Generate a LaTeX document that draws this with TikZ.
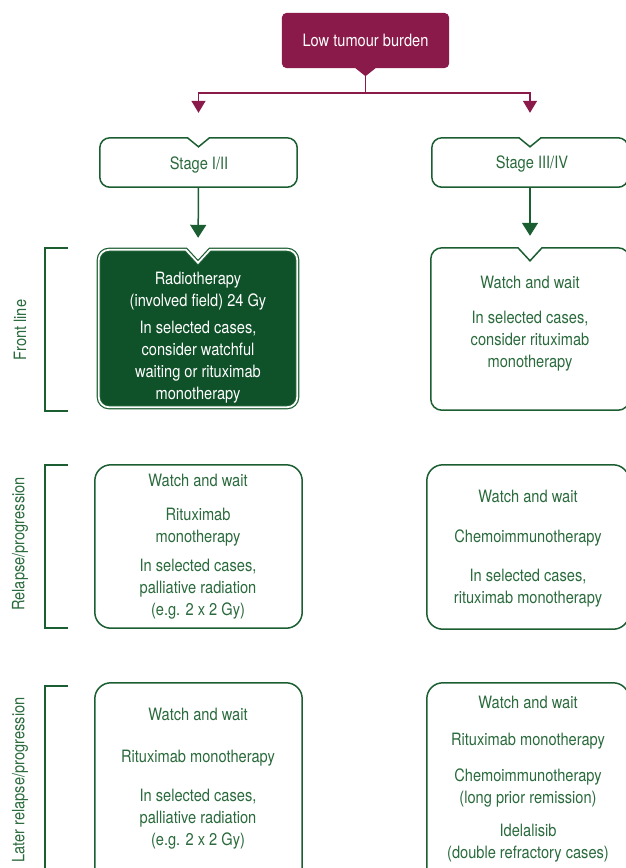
\documentclass[tikz,border=0pt]{standalone}
\usepackage{fontspec}
\setmainfont{TeX Gyre Heros}[FakeStretch=0.86]
\usetikzlibrary{arrows.meta}
\definecolor{maroon}{HTML}{8A1A4A}
\definecolor{grn}{HTML}{1B5E32}
\definecolor{dkgrn}{HTML}{0F5129}
\definecolor{gtxt}{HTML}{2A6A3C}
% #1 style, #2 node, #3 corner radius, #4 notch half width, #5 notch depth
\newcommand\notchbox[5]{\path[#1] (#2.west) [rounded corners=#3] -- (#2.north west) -- ([xshift=-#4-20pt]#2.north) [sharp corners] -- ([xshift=-#4]#2.north) -- ([yshift=-#5]#2.north) -- ([xshift=#4]#2.north) -- ([xshift=#4+20pt]#2.north) [rounded corners=#3] -- (#2.north east) -- (#2.south east) -- (#2.south west) -- cycle;}
\begin{document}
\begin{tikzpicture}[x=1pt,y=-1pt,
  boxarea/.style={rectangle, draw=none, inner sep=0pt},
  gline/.style={draw=grn, line width=1.5pt},
  txt/.style={align=center, text=gtxt, font=\fontsize{17}{22}\selectfont, inner sep=0pt},
  wtxt/.style={align=center, text=white, font=\fontsize{17}{22}\selectfont, inner sep=0pt},
  marr/.style={draw=maroon, line width=1.5pt, -{Triangle[width=14pt,length=12pt]}},
  garr/.style={draw=grn, line width=1.5pt, -{Triangle[width=16pt,length=13pt]}},
  brk/.style={draw=grn, line width=1.2pt},
  lbl/.style={rotate=90, text=gtxt, font=\fontsize{17}{22}\selectfont, inner sep=0pt}]
\useasboundingbox (0,0) rectangle (626,868);
\clip (0,0) rectangle (626,868);

% top box
\node[boxarea, minimum width=167pt, minimum height=55pt] (t) at (365.5,40.5) {};
\path[fill=maroon] (t.west) [rounded corners=5pt] -- (t.north west) -- (t.north east) -- (t.south east) -- ([xshift=30pt]t.south) [sharp corners] -- ([xshift=10pt]t.south) -- ([yshift=-8pt]t.south) -- ([xshift=-10pt]t.south) -- ([xshift=-30pt]t.south) [rounded corners=5pt] -- (t.south west) -- cycle;
\node[wtxt] (tt) at (t.center) {Low tumour burden};

% stage boxes
\node[boxarea, minimum width=197pt, minimum height=49pt] (s1) at (198.5,162.5) {};
\node[boxarea, minimum width=196pt, minimum height=49pt] (s2) at (530,162.5) {};
\notchbox{gline}{s1}{10pt}{11pt}{9pt}
\notchbox{gline}{s2}{10pt}{11pt}{9pt}
\node[txt] (s1t) at (199,165) {Stage I/II};
\node[txt] (s2t) at (532,164) {Stage III/IV};

% front line boxes
\node[boxarea, minimum width=198pt, minimum height=157pt] (f1) at (198,328.5) {};
\node[boxarea, minimum width=198pt, minimum height=162pt] (f2) at (530,329) {};
\notchbox{draw=grn, line width=1.2pt, double=white, double distance=1.8pt, fill=dkgrn}{f1}{10pt}{12pt}{13pt}
\notchbox{gline}{f2}{11pt}{12pt}{13pt}
\node[wtxt] (f1t) at (198,338) {Radiotherapy\\(involved field) 24 Gy\\[5pt]In selected cases,\\consider watchful\\waiting or rituximab\\monotherapy};
\node[txt] (f2t) at (530,323.5) {Watch and wait\\[13pt]In selected cases,\\consider rituximab\\monotherapy};

% relapse boxes
\node[boxarea, minimum width=207pt, minimum height=163pt] (r1) at (198.5,546.5) {};
\node[boxarea, minimum width=202pt, minimum height=164pt] (r2) at (528,547) {};
\draw[gline, rounded corners=16pt] (r1.north west) rectangle (r1.south east);
\draw[gline, rounded corners=16pt] (r2.north west) rectangle (r2.south east);
\node[txt] (r1t) at (198,546.5) {Watch and wait\\[12pt]Rituximab\\monotherapy\\[7pt]In selected cases,\\palliative radiation\\(e.g. 2 x 2 Gy)};
\node[txt] (r2t) at (528,548.5) {Watch and wait\\[18pt]Chemoimmunotherapy\\[17pt]In selected cases,\\rituximab monotherapy};

% later relapse boxes
\node[boxarea, minimum width=207pt, minimum height=217pt] (l1) at (198.5,791.5) {};
\node[boxarea, minimum width=202pt, minimum height=217pt] (l2) at (528,791.5) {};
\draw[gline, rounded corners=16pt] (l1.north west) rectangle (l1.south east);
\draw[gline, rounded corners=16pt] (l2.north west) rectangle (l2.south east);
\node[txt] (l1t) at (198,778.5) {Watch and wait\\[20pt]Rituximab monotherapy\\[17pt]In selected cases,\\palliative radiation\\(e.g. 2 x 2 Gy)};
\node[txt] (l2t) at (528,779) {Watch and wait\\[15pt]Rituximab monotherapy\\[14pt]Chemoimmunotherapy\\(long prior remission)\\[11pt]Idelalisib\\(double refractory cases)};

% connectors
\coordinate (tp) at ([yshift=-8pt]t.south);
\coordinate (j) at ([yshift=-25pt]t.south);
\draw[marr, shorten >=25pt] (tp) -- (j) -| (s1.north);
\draw[marr, shorten >=25pt] (tp) -- (j) -| (s2.north);
\draw[garr, shorten >=12pt] (s1.south) -- (f1.north);
\draw[garr, shorten >=12pt] (s2.south) -- (f2.north);

% brackets
\draw[brk] (68,248) -- (45,248) -- (45,411) -- (68,411);
\draw[brk] (68,465) -- (45,465) -- (45,628) -- (68,628);
\draw[brk] (68,686) -- (45,686) -- (45,900);
\node[lbl] (b1) at (20,330) {Front line};
\node[lbl] (b2) at (20,544) {Relapse/progression};
\node[lbl] (b3) at (20,780) {Later relapse/progression};
\end{tikzpicture}
\end{document}
